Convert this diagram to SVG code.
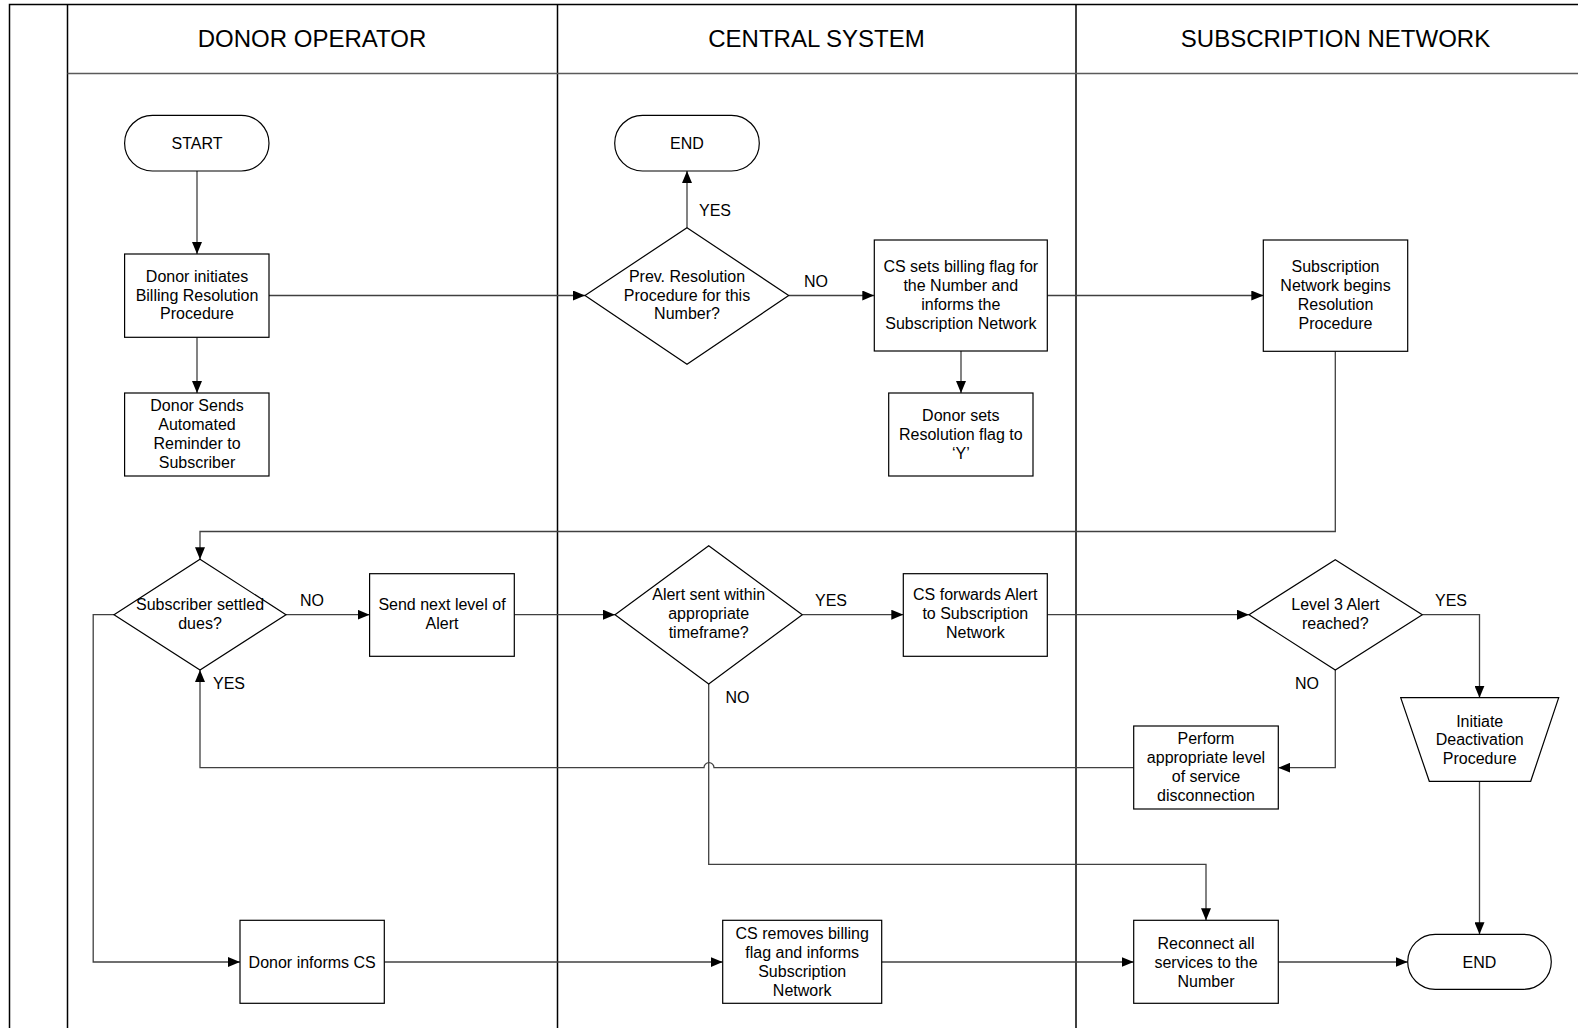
<svg xmlns="http://www.w3.org/2000/svg" width="1578" height="1028" viewBox="0 0 1578 1028">
<style>
  text { font-family: "Liberation Sans", Arial, sans-serif; fill: #000; }
  .hdr { font-size: 24px; text-anchor: middle; }
  .t { font-size: 16px; text-anchor: middle; }
  .lbl { font-size: 16px; }
  .shape { fill: #fff; stroke: #000; stroke-width: 1.2; }
  .conn { fill: none; stroke: #404040; stroke-width: 1.3; }
  .lane { stroke: #000; stroke-width: 1.5; fill: none; }
  .hline { stroke: #5a5a5a; stroke-width: 1.6; fill: none; }
</style>
<defs>
  <marker id="arr" viewBox="0 0 12 10" refX="12" refY="5" markerWidth="12" markerHeight="10" markerUnits="userSpaceOnUse" orient="auto">
    <path d="M0,0 L12,5 L0,10 z" fill="#000"/>
  </marker>
</defs>
<rect width="1578" height="1028" fill="#fff"/>
<g id="lanes">
  <path class="lane" d="M9.5,1028 V4.5 H1578"/>
  <path class="lane" d="M67.5,4.5 V1028"/>
  <path class="lane" d="M557.5,4.5 V1028"/>
  <path class="lane" d="M1076,4.5 V1028"/>
  <path class="hline" d="M67.5,73.5 H1578"/>
  <text class="hdr" x="312" y="46.5">DONOR OPERATOR</text>
  <text class="hdr" x="816.5" y="46.5">CENTRAL SYSTEM</text>
  <text class="hdr" x="1335.5" y="46.5">SUBSCRIPTION NETWORK</text>
</g>
<g id="connectors">
  <path class="conn" d="M197,171 V254" marker-end="url(#arr)"/>
  <path class="conn" d="M197,337.3 V393" marker-end="url(#arr)"/>
  <path class="conn" d="M269,295.5 H585" marker-end="url(#arr)"/>
  <path class="conn" d="M687,227.7 V171" marker-end="url(#arr)"/>
  <path class="conn" d="M788.7,295.5 H874.3" marker-end="url(#arr)"/>
  <path class="conn" d="M961,351 V393" marker-end="url(#arr)"/>
  <path class="conn" d="M1047.3,295.5 H1263.3" marker-end="url(#arr)"/>
  <path class="conn" d="M1335.3,351.3 V531.5 H200 V559.3" marker-end="url(#arr)"/>
  <path class="conn" d="M286,614.7 H369.6" marker-end="url(#arr)"/>
  <path class="conn" d="M514.3,614.7 H615" marker-end="url(#arr)"/>
  <path class="conn" d="M802.3,614.7 H903.3" marker-end="url(#arr)"/>
  <path class="conn" d="M1047.3,614.7 H1249" marker-end="url(#arr)"/>
  <path class="conn" d="M1422.3,614.7 H1479.5 V697.7" marker-end="url(#arr)"/>
  <path class="conn" d="M1335.3,670 V767.7 H1278.3" marker-end="url(#arr)"/>
  <path class="conn" d="M1133.7,767.7 H714 A5,5 0 0 0 704,767.7 H200 V670" marker-end="url(#arr)"/>
  <path class="conn" d="M708.7,684 V864.3 H1206 V920.3" marker-end="url(#arr)"/>
  <path class="conn" d="M114,614.7 H93.2 V962 H240" marker-end="url(#arr)"/>
  <path class="conn" d="M384.3,962 H722.7" marker-end="url(#arr)"/>
  <path class="conn" d="M881.7,962 H1133.7" marker-end="url(#arr)"/>
  <path class="conn" d="M1278.3,962 H1407.7" marker-end="url(#arr)"/>
  <path class="conn" d="M1479.5,781.3 V934.3" marker-end="url(#arr)"/>
  <text class="lbl" x="699" y="216">YES</text>
  <text class="lbl" x="804" y="287">NO</text>
  <text class="lbl" x="300" y="605.5">NO</text>
  <text class="lbl" x="213" y="689">YES</text>
  <text class="lbl" x="815" y="605.5">YES</text>
  <text class="lbl" x="1435" y="605.5">YES</text>
  <text class="lbl" x="1295" y="689">NO</text>
  <text class="lbl" x="725.5" y="703">NO</text>
</g>
<g id="start">
  <rect class="shape" x="124.6" y="115.3" width="144.4" height="55.7" rx="27.85"/>
  <text class="t" x="197" y="149">START</text>
</g>
<g id="donor-initiates">
  <rect class="shape" x="124.6" y="254" width="144.4" height="83.3"/>
  <text class="t" x="197" y="281.5">Donor initiates</text>
  <text class="t" x="197" y="300.5">Billing Resolution</text>
  <text class="t" x="197" y="319">Procedure</text>
</g>
<g id="donor-sends">
  <rect class="shape" x="124.6" y="393" width="144.4" height="83"/>
  <text class="t" x="197" y="411">Donor Sends</text>
  <text class="t" x="197" y="430">Automated</text>
  <text class="t" x="197" y="449">Reminder to</text>
  <text class="t" x="197" y="468">Subscriber</text>
</g>
<g id="end-top">
  <rect class="shape" x="614.7" y="115.3" width="144.6" height="55.7" rx="27.85"/>
  <text class="t" x="687" y="149">END</text>
</g>
<g id="prev-resolution">
  <polygon class="shape" points="687,227.7 788.7,295.5 687,364.3 585,295.5"/>
  <text class="t" x="687" y="281.5">Prev. Resolution</text>
  <text class="t" x="687" y="300.5">Procedure for this</text>
  <text class="t" x="687" y="319">Number?</text>
</g>
<g id="cs-sets">
  <rect class="shape" x="874.3" y="240" width="173" height="111"/>
  <text class="t" x="960.8" y="271.5">CS sets billing flag for</text>
  <text class="t" x="960.8" y="290.5">the Number and</text>
  <text class="t" x="960.8" y="309.5">informs the</text>
  <text class="t" x="960.8" y="328.5">Subscription Network</text>
</g>
<g id="donor-sets">
  <rect class="shape" x="888.7" y="393" width="144.3" height="83"/>
  <text class="t" x="960.8" y="420.5">Donor sets</text>
  <text class="t" x="960.8" y="439.5">Resolution flag to</text>
  <text class="t" x="960.8" y="458.5">‘Y’</text>
</g>
<g id="sn-begins">
  <rect class="shape" x="1263.3" y="240" width="144.4" height="111.3"/>
  <text class="t" x="1335.5" y="271.5">Subscription</text>
  <text class="t" x="1335.5" y="290.5">Network begins</text>
  <text class="t" x="1335.5" y="309.5">Resolution</text>
  <text class="t" x="1335.5" y="328.5">Procedure</text>
</g>
<g id="subscriber-settled">
  <polygon class="shape" points="200,559.3 286,614.7 200,670 114,614.7"/>
  <text class="t" x="200" y="610">Subscriber settled</text>
  <text class="t" x="200" y="628.5">dues?</text>
</g>
<g id="send-next">
  <rect class="shape" x="369.6" y="573.7" width="144.7" height="82.6"/>
  <text class="t" x="442" y="610">Send next level of</text>
  <text class="t" x="442" y="628.5">Alert</text>
</g>
<g id="alert-sent">
  <polygon class="shape" points="708.7,545.7 802.3,614.7 708.7,684 615,614.7"/>
  <text class="t" x="708.7" y="600">Alert sent within</text>
  <text class="t" x="708.7" y="619">appropriate</text>
  <text class="t" x="708.7" y="638">timeframe?</text>
</g>
<g id="cs-forwards">
  <rect class="shape" x="903.3" y="573.7" width="144" height="82.6"/>
  <text class="t" x="975.3" y="600">CS forwards Alert</text>
  <text class="t" x="975.3" y="619">to Subscription</text>
  <text class="t" x="975.3" y="638">Network</text>
</g>
<g id="level3">
  <polygon class="shape" points="1335.3,559.7 1422.3,614.7 1335.3,670 1249,614.7"/>
  <text class="t" x="1335.3" y="610">Level 3 Alert</text>
  <text class="t" x="1335.3" y="628.5">reached?</text>
</g>
<g id="deactivation">
  <polygon class="shape" points="1400.7,697.7 1558.7,697.7 1530.7,781.3 1429.3,781.3"/>
  <text class="t" x="1479.7" y="726.5">Initiate</text>
  <text class="t" x="1479.7" y="745">Deactivation</text>
  <text class="t" x="1479.7" y="763.5">Procedure</text>
</g>
<g id="perform">
  <rect class="shape" x="1133.7" y="726" width="144.6" height="83"/>
  <text class="t" x="1206" y="744">Perform</text>
  <text class="t" x="1206" y="763">appropriate level</text>
  <text class="t" x="1206" y="782">of service</text>
  <text class="t" x="1206" y="801">disconnection</text>
</g>
<g id="donor-informs">
  <rect class="shape" x="240" y="920.3" width="144.3" height="83"/>
  <text class="t" x="312.2" y="967.5">Donor informs CS</text>
</g>
<g id="cs-removes">
  <rect class="shape" x="722.7" y="920.3" width="159" height="83"/>
  <text class="t" x="802.2" y="939">CS removes billing</text>
  <text class="t" x="802.2" y="958">flag and informs</text>
  <text class="t" x="802.2" y="977">Subscription</text>
  <text class="t" x="802.2" y="996">Network</text>
</g>
<g id="reconnect">
  <rect class="shape" x="1133.7" y="920.3" width="144.6" height="83"/>
  <text class="t" x="1206" y="948.5">Reconnect all</text>
  <text class="t" x="1206" y="967.5">services to the</text>
  <text class="t" x="1206" y="986.5">Number</text>
</g>
<g id="end-bottom">
  <rect class="shape" x="1407.7" y="934.3" width="143.6" height="55" rx="27.5"/>
  <text class="t" x="1479.5" y="967.5">END</text>
</g>
</svg>
